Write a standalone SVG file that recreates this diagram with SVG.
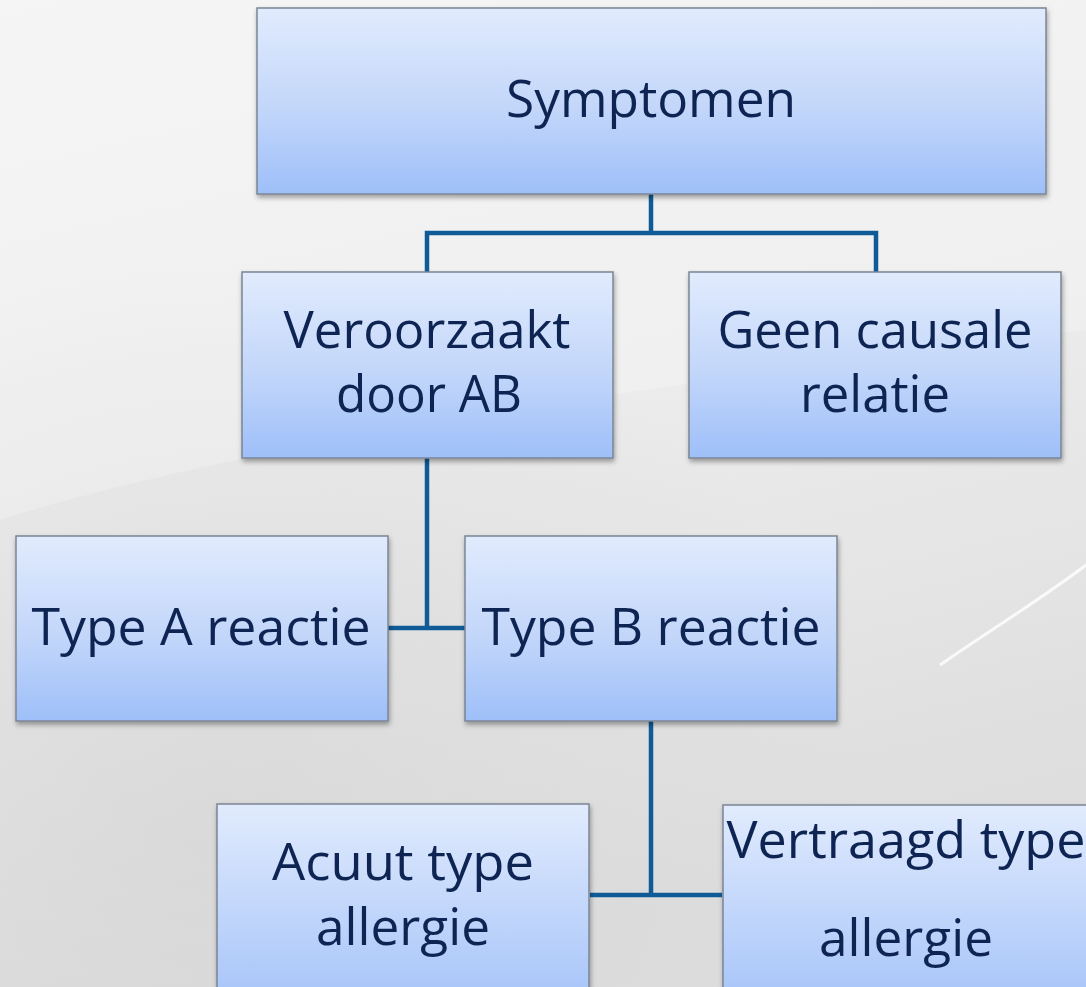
<svg xmlns="http://www.w3.org/2000/svg" width="1086" height="987" viewBox="0 0 1086 987">
  <defs>
    <linearGradient id="bg" x1="0" y1="0" x2="0.25" y2="1">
      <stop offset="0" stop-color="#f2f2f2"/>
      <stop offset="0.5" stop-color="#ececec"/>
      <stop offset="1" stop-color="#dddddd"/>
    </linearGradient>
    <radialGradient id="shade" cx="0.2" cy="0.85" r="0.6">
      <stop offset="0" stop-color="#d6d6d6" stop-opacity="0.7"/>
      <stop offset="1" stop-color="#d6d6d6" stop-opacity="0"/>
    </radialGradient>
    <linearGradient id="boxfill" x1="0" y1="0" x2="0" y2="1">
      <stop offset="0" stop-color="#e1ebfd"/>
      <stop offset="0.55" stop-color="#c2d6fa"/>
      <stop offset="1" stop-color="#9ebff9"/>
    </linearGradient>
    <linearGradient id="boxfill2" x1="0" y1="0" x2="0" y2="1">
      <stop offset="0" stop-color="#e1ebfd"/>
      <stop offset="1" stop-color="#a6c4f9"/>
    </linearGradient>
    <filter id="shadow" x="-5%" y="-5%" width="115%" height="120%">
      <feDropShadow dx="1" dy="3" stdDeviation="2.5" flood-color="#000" flood-opacity="0.35"/>
    </filter>
    <style>
      .box { fill: url(#boxfill); stroke: #7b8594; stroke-width: 1.5; filter: url(#shadow); }
      .box2 { fill: url(#boxfill2); stroke: #7b8594; stroke-width: 1.5; filter: url(#shadow); }
      .lbl { font-family: "Open Sans", "Noto Sans", sans-serif; font-size: 52px; fill: #0e2452; text-anchor: middle; }
      .conn { fill: none; stroke: #0f5b98; stroke-width: 4.5; }
    </style>
  </defs>

  <!-- background -->
  <rect x="0" y="0" width="1086" height="987" fill="url(#bg)"/>
  <rect x="0" y="0" width="1086" height="987" fill="url(#shade)"/>
  <path d="M0 520 C 250 440, 700 380, 1086 330 L1086 0 L0 0 Z" fill="#ffffff" opacity="0.22"/>
  <path d="M940 665 C 990 630, 1040 600, 1086 565" fill="none" stroke="#ffffff" stroke-width="3" opacity="0.8"/>

  <!-- connectors -->
  <g id="connectors">
    <path class="conn" d="M651 194 V233 M427 272 V233 H876 V272"/>
    <path class="conn" d="M427 458 V628 M388 628 H465"/>
    <path class="conn" d="M651 721 V895 M590 895 H722"/>
  </g>

  <g id="node-symptomen">
    <rect class="box" x="257" y="8" width="789" height="186"/>
    <text class="lbl" x="651" y="117" textLength="290" lengthAdjust="spacingAndGlyphs">Symptomen</text>
  </g>

  <g id="node-veroorzaakt">
    <rect class="box" x="242" y="272" width="371" height="186"/>
    <text class="lbl" x="427" y="348" textLength="287" lengthAdjust="spacingAndGlyphs">Veroorzaakt</text>
    <text class="lbl" x="429" y="412" textLength="186" lengthAdjust="spacingAndGlyphs">door AB</text>
  </g>

  <g id="node-geen">
    <rect class="box" x="689" y="272" width="372" height="186"/>
    <text class="lbl" x="875" y="348" textLength="315" lengthAdjust="spacingAndGlyphs">Geen causale</text>
    <text class="lbl" x="875" y="412" textLength="150" lengthAdjust="spacingAndGlyphs">relatie</text>
  </g>

  <g id="node-typeA">
    <rect class="box" x="16" y="536" width="372" height="185"/>
    <text class="lbl" x="201" y="645" textLength="339" lengthAdjust="spacingAndGlyphs">Type A reactie</text>
  </g>

  <g id="node-typeB">
    <rect class="box" x="465" y="536" width="372" height="185"/>
    <text class="lbl" x="651" y="645" textLength="339" lengthAdjust="spacingAndGlyphs">Type B reactie</text>
  </g>

  <g id="node-acuut">
    <rect class="box2" x="217" y="804" width="372" height="200"/>
    <text class="lbl" x="403" y="880" textLength="262" lengthAdjust="spacingAndGlyphs">Acuut type</text>
    <text class="lbl" x="403" y="945" textLength="174" lengthAdjust="spacingAndGlyphs">allergie</text>
  </g>

  <g id="node-vertraagd">
    <rect class="box2" x="723" y="805" width="380" height="200"/>
    <text class="lbl" x="906" y="858" textLength="359" lengthAdjust="spacingAndGlyphs">Vertraagd type</text>
    <text class="lbl" x="906" y="956" textLength="174" lengthAdjust="spacingAndGlyphs">allergie</text>
  </g>
</svg>
